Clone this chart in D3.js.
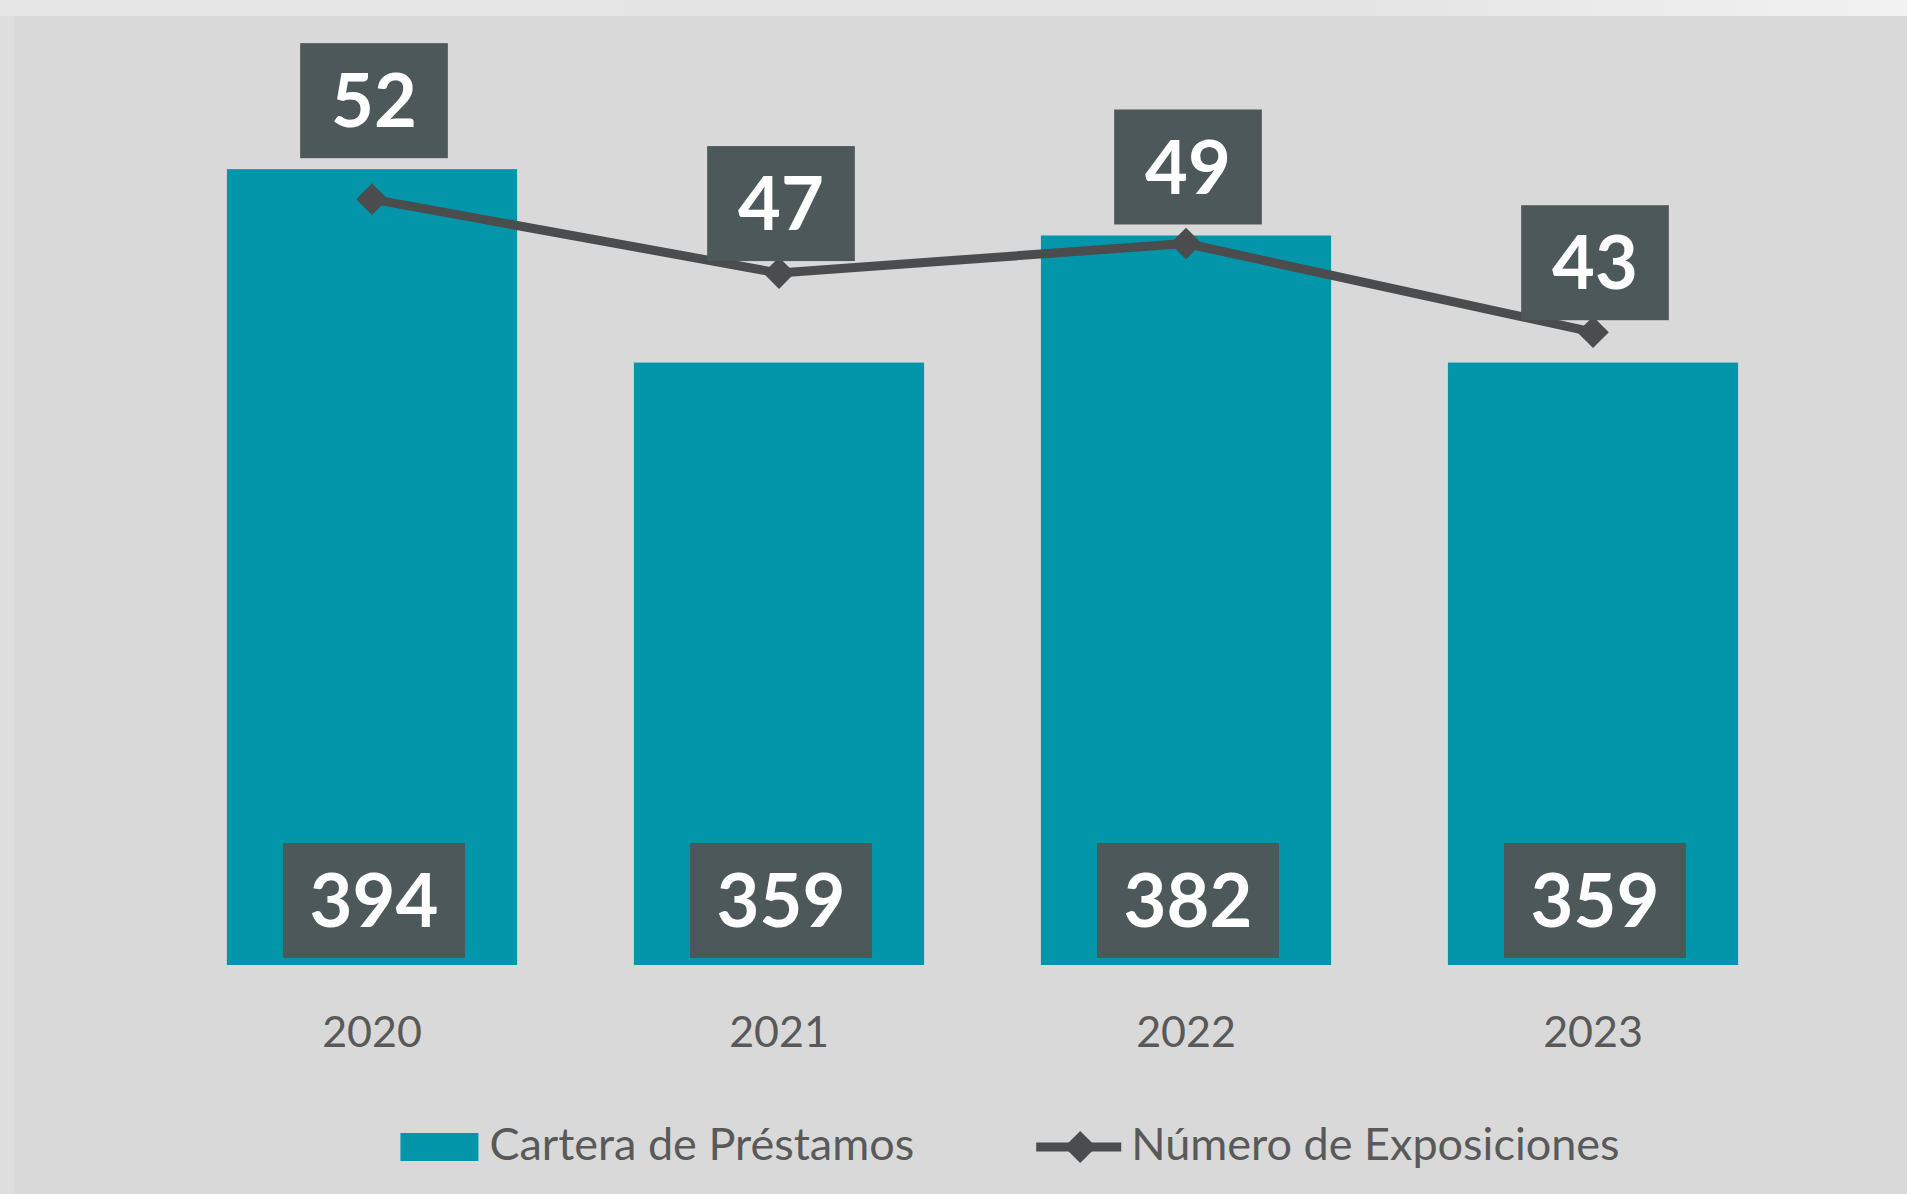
<!DOCTYPE html>
<html>
<head>
<meta charset="utf-8">
<script src="https://cdn.jsdelivr.net/npm/d3@7"></script>
<style>
  html, body { margin: 0; padding: 0; background: #d9d9d9; }
  #chart { width: 1907px; height: 1194px; }
</style>
</head>
<body>
<div id="chart"></div>
<script>
// data
var years = ['2020', '2021', '2022', '2023'];
var cartera = [394, 359, 382, 359];          // Cartera de Préstamos (bars)
var exposiciones = [52, 47, 49, 43];          // Número de Exposiciones (line)
var legendLabels = ['Cartera de Préstamos', 'Número de Exposiciones'];

var width = 1907, height = 1194;
var barColor = '#0396ab', lineColor = '#4a4c4d', boxColor = '#4c5859', textColor = '#595959';

var svg = d3.select('#chart').append('svg')
    .attr('width', width)
    .attr('height', height);

// background, with the lighter strips along the top and left edge
var defs = svg.append('defs');
var grad = defs.append('linearGradient').attr('id', 'topstrip');
grad.append('stop').attr('offset', '0%').attr('stop-color', '#e6e6e6');
grad.append('stop').attr('offset', '70%').attr('stop-color', '#e4e4e4');
grad.append('stop').attr('offset', '100%').attr('stop-color', '#f2f2f2');

svg.append('rect').attr('width', width).attr('height', height).attr('fill', '#d9d9d9');
svg.append('rect').attr('width', width).attr('height', 16).attr('fill', 'url(#topstrip)');
svg.append('rect').attr('y', 16).attr('width', 14).attr('height', height - 16).attr('fill', '#dedede');

var data = years.map(function(d, i) {
    return {year: d, bar: cartera[i], line: exposiciones[i]};
});

var x = d3.scaleBand()
    .domain(years)
    .range([168.5, 1796.5])
    .paddingInner(0.287)
    .paddingOuter(0.1435);

// primary axis for the bars (does not start at zero), secondary for the line
var y = d3.scaleLinear().domain([250, 400]).range([965, 136]);
var y2 = d3.scaleLinear().domain([0, 56]).range([968, 140]);

var g = svg.append('g');

g.selectAll('.bar')
    .data(data)
  .enter().append('rect')
    .attr('class', 'bar')
    .attr('x', function(d) { return x(d.year); })
    .attr('y', function(d) { return y(d.bar); })
    .attr('width', x.bandwidth())
    .attr('height', function(d) { return y(250) - y(d.bar); })
    .attr('fill', barColor);

// x axis, no line, no ticks
var xAxis = g.append('g')
    .attr('transform', 'translate(0,' + y(250) + ')')
    .call(d3.axisBottom(x).tickSize(0).tickPadding(51.5));
xAxis.select('.domain').remove();
xAxis.selectAll('text')
    .attr('fill', textColor)
    .style('font-family', 'Lato, "Open Sans", sans-serif')
    .style('font-size', '43px');

var cx = function(d) { return x(d.year) + x.bandwidth() / 2; };

var line = d3.line()
    .x(cx)
    .y(function(d) { return y2(d.line); });

g.append('path')
    .datum(data)
    .attr('fill', 'none')
    .attr('stroke', lineColor)
    .attr('stroke-width', 9)
    .attr('stroke-linejoin', 'round')
    .attr('d', line);

var diamond = d3.symbol().type(d3.symbolSquare).size(500);
g.selectAll('.marker')
    .data(data)
  .enter().append('path')
    .attr('class', 'marker')
    .attr('d', diamond)
    .attr('fill', lineColor)
    .attr('transform', function(d) { return 'translate(' + cx(d) + ',' + y2(d.line) + ') rotate(45)'; });

// dark label boxes
var fs = 74, boxH = 115;
function labelBox(sel, text, xc, bottom) {
    var lg = sel.append('g');
    var t = lg.append('text')
        .attr('text-anchor', 'middle')
        .attr('x', xc)
        .attr('y', bottom - boxH / 2 + fs * 0.36)
        .attr('fill', '#ffffff')
        .style('font-family', 'Lato, "Open Sans", sans-serif')
        .style('font-weight', 'bold')
        .style('font-size', fs + 'px')
        .text(text);
    var w = t.node().getComputedTextLength() * 0.8 + 79;
    lg.insert('rect', 'text')
        .attr('x', xc - w / 2)
        .attr('y', bottom - boxH)
        .attr('width', w)
        .attr('height', boxH)
        .attr('fill', boxColor);
}

var labels = g.append('g');
data.forEach(function(d) {
    // bar value sits at the foot of the bar
    labelBox(labels, d.bar, cx(d) + 2, y(250) - 7);
    // line value sits above the point, but never over the bar top
    var bottom = Math.min(y2(d.line) - 12, y(d.bar) - 11);
    labelBox(labels, d.line, cx(d) + 2, bottom);
});

// legend
var legend = svg.append('g');
var lfont = 'Lato, "Open Sans", sans-serif';
var base = 1160;

var sw = legend.append('rect')
    .attr('y', 1133).attr('width', 78).attr('height', 28)
    .attr('fill', barColor);
var t1 = legend.append('text')
    .attr('y', base)
    .attr('fill', textColor)
    .style('font-family', lfont).style('font-size', '45px')
    .text(legendLabels[0]);
var ln = legend.append('line')
    .attr('y1', 1147).attr('y2', 1147)
    .attr('stroke', lineColor).attr('stroke-width', 9);
var lm = legend.append('path')
    .attr('d', d3.symbol().type(d3.symbolSquare).size(520))
    .attr('fill', lineColor);
var t2 = legend.append('text')
    .attr('y', base)
    .attr('fill', textColor)
    .style('font-family', lfont).style('font-size', '45px')
    .text(legendLabels[1]);

var w1 = t1.node().getComputedTextLength(),
    w2 = t2.node().getComputedTextLength();
var total = 78 + 11 + w1 + 122 + 95 + w2;
var x0 = 1010 - total / 2;
sw.attr('x', x0);
t1.attr('x', x0 + 89);
var lx = x0 + 89 + w1 + 122;
ln.attr('x1', lx).attr('x2', lx + 85);
lm.attr('transform', 'translate(' + (lx + 44) + ',1147) rotate(45)');
t2.attr('x', lx + 95);

console.log('legend widths ' + w1 + ', ' + w2);
</script>
</body>
</html>
